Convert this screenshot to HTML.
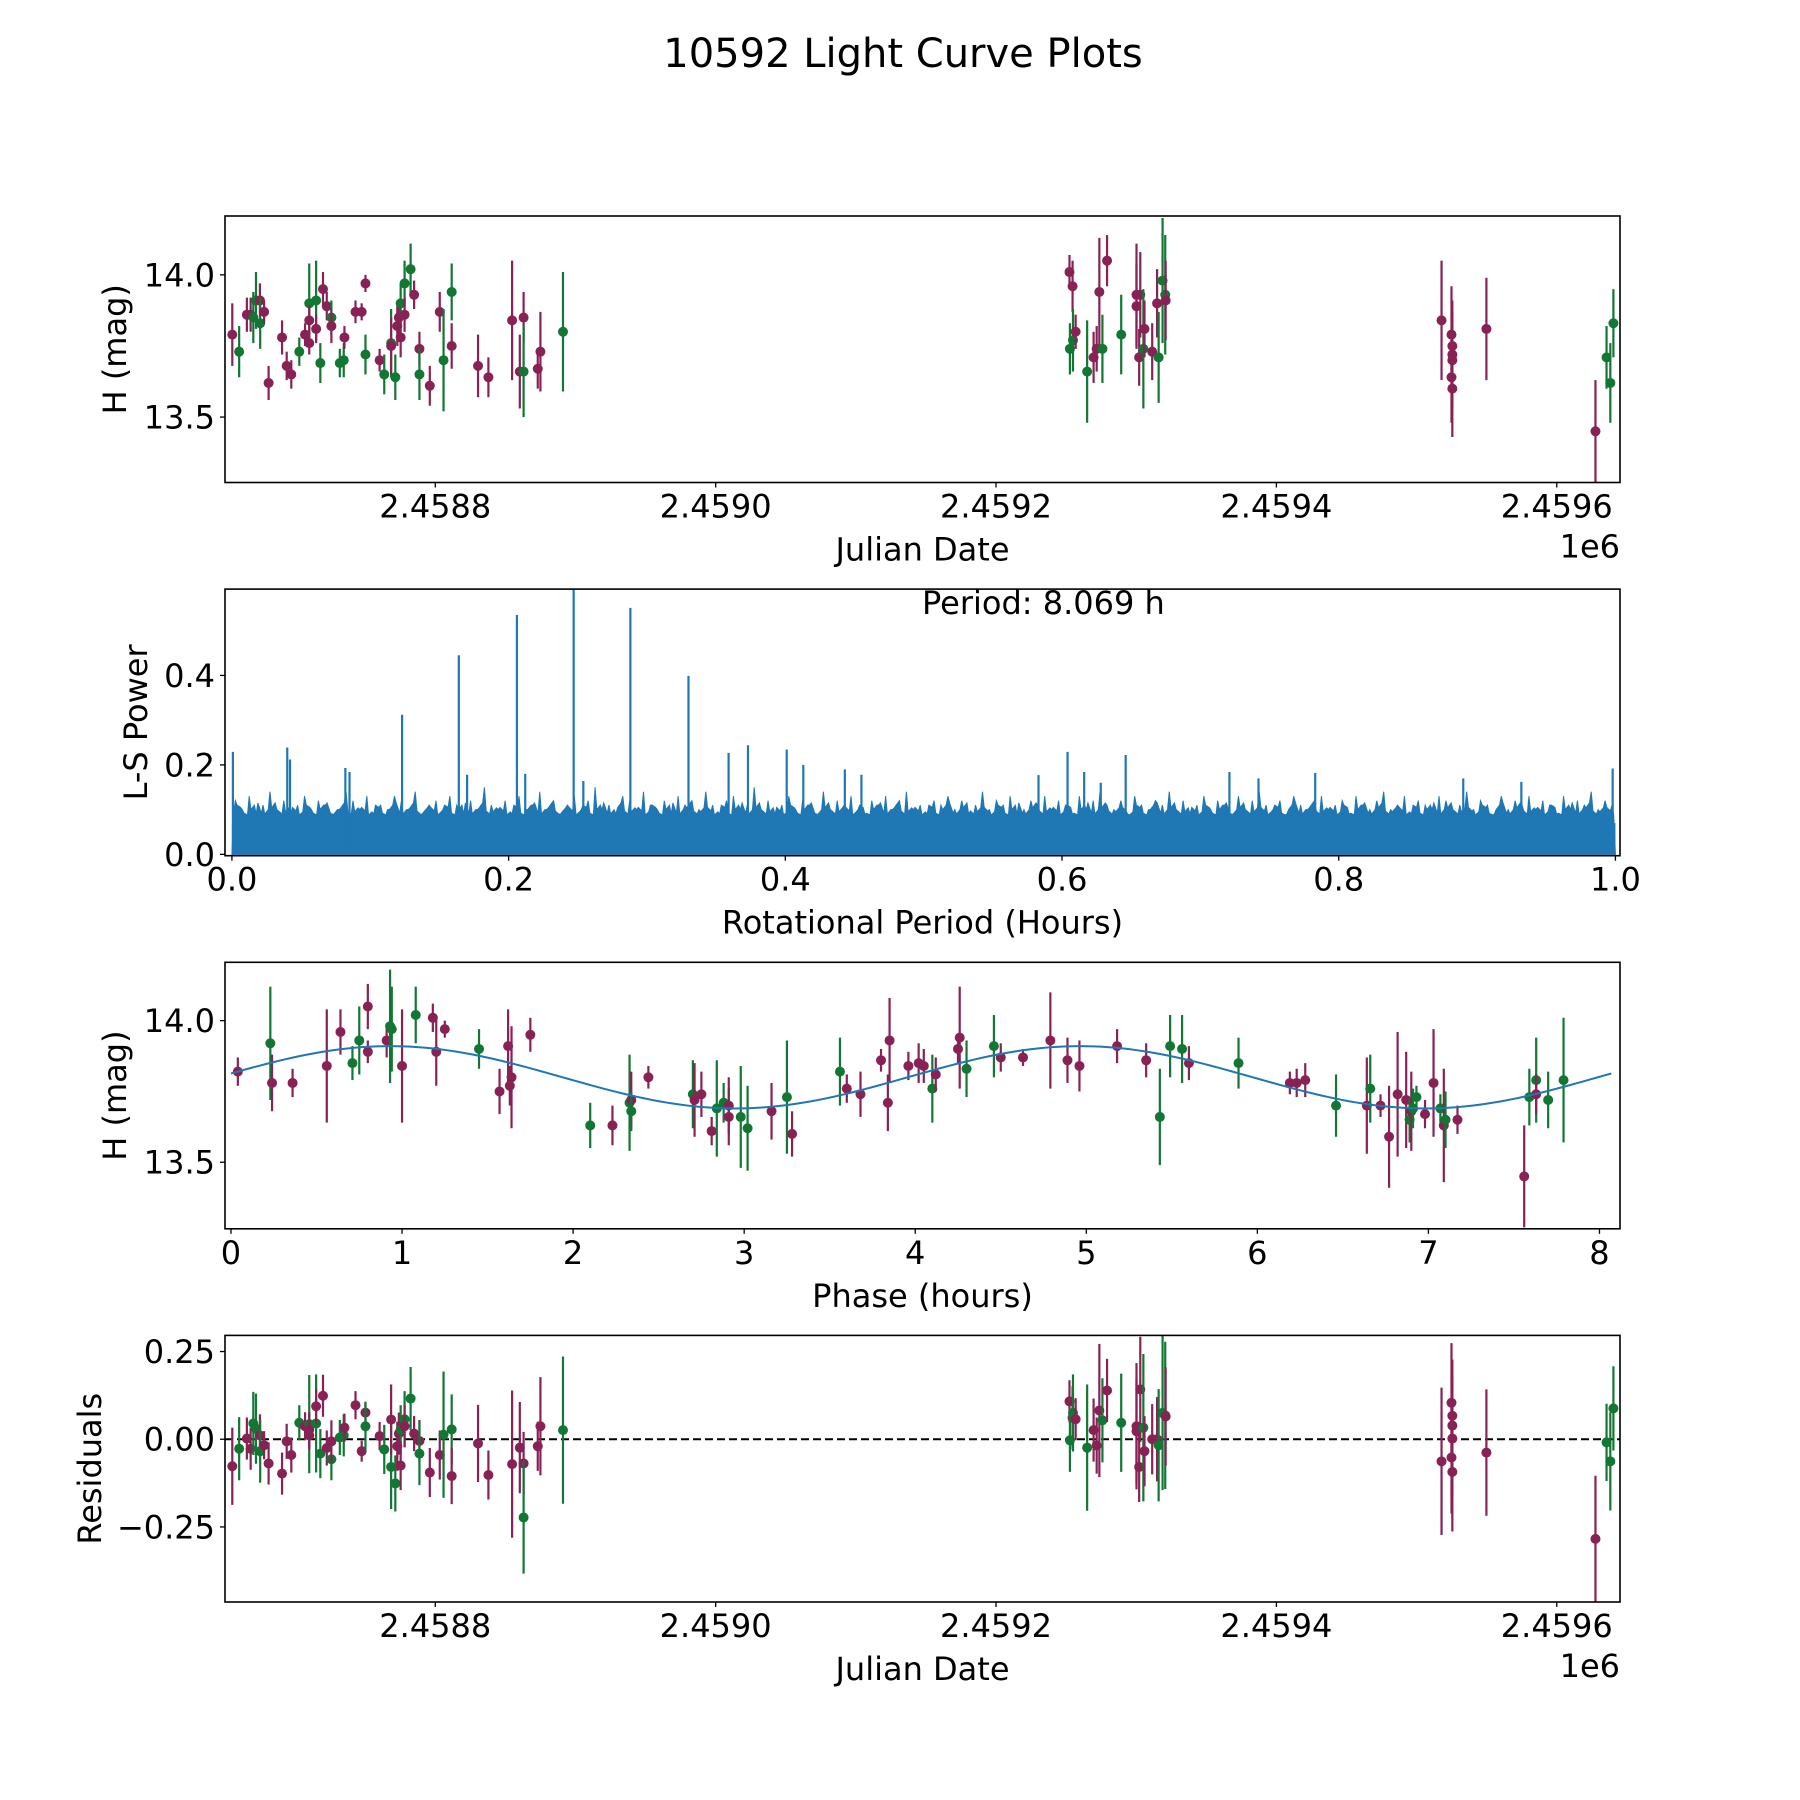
<!DOCTYPE html>
<html><head><meta charset="utf-8"><title>10592 Light Curve Plots</title>
<style>
html,body{margin:0;padding:0;background:#fff;}
svg{display:block;font-family:"DejaVu Sans","Liberation Sans",sans-serif;}
</style></head>
<body>
<svg id="fig" width="1800" height="1800" viewBox="0 0 1800 1800" xmlns="http://www.w3.org/2000/svg">
<rect width="1800" height="1800" fill="#fff"/>
<text x="903" y="67" font-size="40" text-anchor="middle" fill="#000">10592 Light Curve Plots</text>
</svg>
<script>
// ---------- data: raw light curve (JD - 2458000) ----------
const jdVals = [655.2,660.1,665.6,668.3,670.2,672.1,674.9,675.1,677.9,681.1,
690.7,694.0,697.3,703.0,707.1,710.1,710.1,710.1,715.0,715.0,
718.0,719.9,722.6,725.9,725.9,731.9,734.7,735.2,743.1,747.5,
750.2,750.2,760.3,763.6,768.5,768.5,771.5,772.9,774.0,775.3,
775.3,778.1,778.1,782.4,784.9,788.7,788.7,796.1,803.2,805.9,
811.7,811.7,830.5,837.9,854.8,860.3,863.0,863.0,873.1,875.0,
891.1,
1252.4,1254.6,1252.7,1254.9,1256.8,1265.0,1269.6,1271.8,1273.7,1275.9,
1279.2,1289.3,1300.2,1300.2,1302.1,1302.9,1305.1,1305.9,1311.4,1314.9,
1316.0,1318.8,1320.7,1321.0,1517.8,1524.9,1525.5,1525.5,1525.5,1524.9,
1525.5,1549.8,1627.6,1635.5,1638.2,1640.4];
const magVals = [13.79,13.73,13.86,13.86,13.85,13.91,13.91,13.83,13.87,13.62,
13.78,13.68,13.65,13.73,13.79,13.90,13.84,13.76,13.91,13.81,
13.69,13.95,13.89,13.85,13.82,13.69,13.70,13.78,13.87,13.87,
13.97,13.72,13.70,13.65,13.76,13.75,13.64,13.82,13.85,13.90,
13.78,13.97,13.86,14.02,13.93,13.74,13.65,13.61,13.87,13.70,
13.94,13.75,13.68,13.64,13.84,13.66,13.85,13.66,13.67,13.73,
13.80,
14.01,13.96,13.74,13.77,13.80,13.66,13.71,13.74,13.94,13.74,
14.05,13.79,13.93,13.89,13.71,13.93,13.74,13.81,13.73,13.90,
13.71,13.98,13.93,13.91,13.84,13.79,13.75,13.72,13.70,13.64,
13.60,13.81,13.45,13.71,13.62,13.83];
const errVals = [0.11,0.09,0.06,0.06,0.09,0.10,0.06,0.09,0.04,0.06,
0.06,0.05,0.05,0.05,0.04,0.14,0.05,0.04,0.14,0.05,
0.07,0.06,0.05,0.06,0.06,0.05,0.06,0.04,0.04,0.03,
0.03,0.07,0.04,0.07,0.12,0.10,0.08,0.07,0.06,0.07,
0.07,0.08,0.06,0.09,0.05,0.06,0.09,0.07,0.07,0.18,
0.10,0.08,0.11,0.07,0.21,0.13,0.09,0.16,0.07,0.14,
0.21,
0.06,0.09,0.09,0.11,0.06,0.18,0.09,0.08,0.19,0.12,
0.09,0.14,0.18,0.15,0.10,0.15,0.21,0.10,0.10,0.12,
0.16,0.22,0.21,0.14,0.21,0.17,0.16,0.14,0.17,0.16,
0.17,0.18,0.18,0.11,0.14,0.12];
const filterVals = [0,1,0,0,1,1,0,1,0,0,
0,0,0,1,0,1,0,0,1,0,
1,0,0,1,0,1,1,0,0,0,
0,1,0,1,1,0,1,0,0,1,
0,1,0,1,0,0,1,0,0,1,
1,0,0,0,0,0,0,1,0,0,
1,
0,0,1,1,0,1,0,0,0,1,
0,1,0,0,0,0,1,0,0,0,
1,1,1,0,0,0,0,0,0,0,
0,0,0,1,1,1];
const residVals = [-0.077,-0.027,0.002,-0.027,0.045,0.030,0.011,-0.034,-0.017,-0.069,
-0.098,-0.006,-0.045,0.047,0.037,0.043,0.027,0.011,0.045,0.094,
-0.041,0.124,-0.025,-0.057,-0.006,0.005,0.011,0.033,0.097,-0.034,
0.076,0.037,0.009,-0.029,-0.079,0.056,-0.126,-0.020,0.016,0.027,
-0.075,0.057,0.037,0.116,0.016,-0.005,-0.041,-0.095,-0.045,0.013,
0.028,-0.105,-0.012,-0.102,-0.071,-0.024,-0.069,-0.223,-0.020,0.037,
0.026,
0.108,0.061,-0.003,0.075,0.057,-0.024,0.026,-0.018,0.082,0.054,
0.139,0.047,0.037,0.023,-0.079,0.142,0.033,-0.034,0.0,0.0,
-0.017,0.075,0.068,0.065,-0.063,0.104,0.067,0.039,0.002,-0.052,
-0.093,-0.038,-0.284,-0.009,-0.063,0.088];

// ---------- data: phase-folded ----------
const phaseVals = [0.04,0.23,0.24,0.36,0.56,0.64,0.71,0.75,0.80,0.80,
0.91,0.93,0.94,1.00,1.08,1.18,1.20,1.25,1.45,1.57,
1.62,1.63,1.64,1.75,2.10,2.23,2.33,2.34,2.34,2.44,
2.70,2.71,2.75,2.81,2.84,2.88,2.91,2.91,2.98,3.02,
3.16,3.25,3.28,3.56,3.60,3.68,3.80,3.85,3.84,3.96,
4.02,4.05,4.10,4.12,4.25,4.26,4.30,4.46,4.50,4.63,
4.79,4.89,4.96,5.18,5.35,5.43,5.49,5.56,5.60,5.89,
6.19,6.23,6.28,6.46,6.64,6.66,6.72,6.77,6.82,6.87,
6.89,6.90,6.91,6.93,6.98,7.03,7.07,7.09,7.10,7.17,
7.56,7.59,7.63,7.63,7.70,7.79];
const phaseMag = [13.82,13.92,13.78,13.78,13.84,13.96,13.85,13.93,14.05,13.89,
13.93,13.98,13.97,13.84,14.02,14.01,13.89,13.97,13.90,13.75,
13.91,13.77,13.80,13.95,13.63,13.63,13.71,13.72,13.68,13.80,
13.74,13.72,13.74,13.61,13.69,13.71,13.70,13.66,13.66,13.62,
13.68,13.73,13.60,13.82,13.76,13.74,13.86,13.93,13.71,13.84,
13.85,13.84,13.76,13.81,13.90,13.94,13.83,13.91,13.87,13.87,
13.93,13.86,13.84,13.91,13.86,13.66,13.91,13.90,13.85,13.85,
13.78,13.78,13.79,13.70,13.70,13.76,13.70,13.59,13.74,13.72,
13.65,13.68,13.69,13.73,13.67,13.78,13.69,13.63,13.65,13.65,
13.45,13.73,13.79,13.74,13.72,13.79];
const phaseErr = [0.05,0.20,0.10,0.05,0.20,0.08,0.06,0.12,0.08,0.04,
0.06,0.20,0.15,0.20,0.10,0.05,0.12,0.03,0.07,0.08,
0.13,0.07,0.18,0.06,0.08,0.07,0.17,0.10,0.07,0.04,
0.12,0.13,0.08,0.05,0.17,0.07,0.10,0.10,0.18,0.15,
0.10,0.20,0.08,0.12,0.05,0.08,0.04,0.15,0.10,0.05,
0.07,0.06,0.12,0.06,0.05,0.18,0.10,0.11,0.05,0.03,
0.17,0.08,0.09,0.06,0.06,0.17,0.11,0.12,0.06,0.09,
0.04,0.05,0.06,0.11,0.17,0.12,0.04,0.18,0.22,0.17,
0.08,0.14,0.07,0.04,0.05,0.19,0.05,0.20,0.10,0.05,
0.18,0.10,0.15,0.07,0.10,0.22];
const phaseFilter = [0,1,0,0,0,0,1,1,0,0,
0,1,1,0,1,0,0,0,1,0,
0,0,0,0,1,0,1,0,1,0,
1,0,0,0,1,1,0,0,1,1,
0,1,0,1,0,0,0,0,0,0,
0,0,1,0,0,0,1,1,0,0,
0,0,0,0,0,1,1,1,0,1,
0,0,0,1,0,1,0,0,0,0,
1,0,1,1,0,0,1,0,1,0,
0,1,1,0,1,1];
// fitted model parameters: [mean, amplitude, peak phase, period]
const modelParams = [13.80, 0.11, 0.93, 8.069];

// ---------- data: periodogram ----------
const peakPeriods = [0.0007,0.040,0.042,0.082,0.085,0.123,0.164,0.170,0.206,0.212,0.247,0.254,0.288,0.330,0.359,0.373,0.401,0.413,0.443,0.455,
0.583,0.604,0.616,0.628,0.646,0.721,0.742,0.783,0.890,0.932,0.998];
const peakPowers = [0.229,0.239,0.212,0.193,0.184,0.312,0.445,0.178,0.535,0.180,0.593,0.164,0.551,0.399,0.227,0.244,0.234,0.200,0.190,0.178,
0.177,0.229,0.184,0.160,0.222,0.184,0.170,0.182,0.170,0.162,0.192];
const noisePowers = [0.12,0.10,0.13,0.09,0.11,0.14,0.10,0.12,0.09,0.11,0.13,0.10,0.12,0.11,0.09,0.10,0.14,0.12,0.10,0.13,
0.09,0.11,0.10,0.13,0.12,0.10,0.14,0.09,0.11,0.12,0.10,0.13,0.11,0.09,0.12,0.10,0.15,0.11,0.10,0.12,
0.09,0.13,0.10,0.11,0.14,0.10,0.12,0.09,0.11,0.13,0.10,0.12,0.15,0.10,0.11,0.09,0.13,0.12,0.10,0.14,
0.11,0.10,0.12,0.09,0.13,0.11,0.12,0.10,0.14,0.11,0.09,0.12,0.13,0.10,0.11,0.15,0.10,0.12,0.09,0.11,
0.13,0.10,0.12,0.11,0.09,0.14,0.10,0.12,0.11,0.13,0.10,0.09,0.12,0.11,0.13,0.10,0.12,0.14,0.10,0.11,
0.09,0.12,0.11,0.13,0.10,0.12,0.09,0.11,0.14,0.10,0.12,0.11,0.13,0.09,0.10,0.12,0.11,0.13,0.10,0.12,
0.11,0.09,0.13,0.10,0.12,0.14,0.11,0.10,0.12,0.09,0.13,0.11,0.10,0.12,0.11,0.14,0.10,0.12,0.09,0.11,
0.13,0.10,0.12,0.11,0.09,0.13,0.10,0.12,0.14,0.11,0.10,0.12,0.09,0.13,0.11,0.10,0.12,0.13,0.10,0.11,
0.12,0.09,0.13,0.11,0.10,0.12,0.14,0.10,0.11,0.13,0.09,0.12,0.11,0.10,0.13,0.12,0.10,0.11,0.14,0.10,
0.12,0.11,0.09,0.13,0.10,0.12,0.11,0.13,0.10,0.12,0.11,0.09,0.13,0.10,0.12,0.11,0.14,0.10,0.12,0.11];
const noiseMid = [0.095,0.105,0.088,0.110,0.092,0.100,0.115,0.090,0.104,0.097];
const lsFloor = 0.07;

// ---------- tick labels ----------
const jdTicks = [800,1000,1200,1400,1600];
const jdTickLabels = ["2.4588","2.4590","2.4592","2.4594","2.4596"];
const magTicks = [14.0,13.5];
const magTickLabels = ["14.0","13.5"];
const lsXTicks = [0,0.2,0.4,0.6,0.8,1.0];
const lsXTickLabels = ["0.0","0.2","0.4","0.6","0.8","1.0"];
const lsYTicks = [0,0.2,0.4];
const lsYTickLabels = ["0.0","0.2","0.4"];
const phTicks = [0,1,2,3,4,5,6,7,8];
const phTickLabels = ["0","1","2","3","4","5","6","7","8"];
const resTicks = [0.25,0,-0.25];
const resTickLabels = ["0.25","0.00","\u22120.25"];

const COLORS = ["#882255","#117733"];
const BLUE = "#1f77b4";
const NS = "http://www.w3.org/2000/svg";
const svg = document.getElementById("fig");

function el(tag, attrs, parent){
  const e = document.createElementNS(NS, tag);
  for (const k in attrs) e.setAttribute(k, attrs[k]);
  (parent || svg).appendChild(e);
  return e;
}
function scale(d0,d1,p0,p1){ return v => p0 + (v-d0)/(d1-d0)*(p1-p0); }

const L = 225, R = 1620;
const panels = [[216,482.5],[589.1,855.7],[962.3,1228.8],[1335.4,1602]];

function makePanel(i, name, xd, yd){
  const [T,B] = panels[i];
  const g = el("g", {});
  
  
  const clip = el("clipPath", {id:"clip"+i}, g);
  el("rect", {x:L, y:T, width:R-L, height:B-T}, clip);
  const plot = el("g", {"clip-path":"url(#clip"+i+")"}, g);
  
  
  return {g, plot, T, B, x: scale(xd[0],xd[1],L,R), y: scale(yd[0],yd[1],B,T)};
}

function frame(p){
  const f = el("rect", {x:L, y:p.T, width:R-L, height:p.B-p.T, fill:"none", stroke:"#000", "stroke-width":1.6}, p.g);
  
  
}

function xTicks(p, vals, labels, name){
  vals.forEach((v,k)=>{
    const X = p.x(v);
    const t = el("line", {x1:X, x2:X, y1:p.B, y2:p.B+5, stroke:"#000", "stroke-width":1.3}, p.g);
    
    
    const tx = el("text", {x:X, y:p.B+35, "font-size":32, "text-anchor":"middle"}, p.g);
    tx.textContent = labels[k];
    
    
  });
}
function yTicks(p, vals, labels, name){
  vals.forEach((v,k)=>{
    const Y = p.y(v);
    const t = el("line", {x1:L-5, x2:L, y1:Y, y2:Y, stroke:"#000", "stroke-width":1.3}, p.g);
    
    
    const tx = el("text", {x:L-10, y:Y+11.5, "font-size":32, "text-anchor":"end"}, p.g);
    tx.textContent = labels[k];
    
    
  });
}
function xLabel(p, txt){
  const t = el("text", {x:(L+R)/2, y:p.B+78, "font-size":32, "text-anchor":"middle"}, p.g);
  t.textContent = txt;
  
  
}
function yLabel(p, txt, cx){
  const cy = (p.T+p.B)/2;
  const t = el("text", {x:cx, y:cy, "font-size":32, "text-anchor":"middle", "dominant-baseline":"central", transform:"rotate(-90 "+cx+" "+cy+")"}, p.g);
  t.textContent = txt;
  
  
}
function offsetText(p){
  const t = el("text", {x:R, y:p.B+75, "font-size":32, "text-anchor":"end"}, p.g);
  t.textContent = "1e6";
  
  
}
function errPoints(p, xs, ys, es, cs, name){
  xs.forEach((xv,k)=>{
    const X = p.x(xv), c = COLORS[cs[k]];
    const ln = el("line", {x1:X, x2:X, y1:p.y(ys[k]-es[k]), y2:p.y(ys[k]+es[k]), stroke:c, "stroke-width":2.2}, p.plot);
    
    
    const dot = el("circle", {cx:X, cy:p.y(ys[k]), r:5, fill:c}, p.plot);
    
    
  });
}

// ---- Panel 1: raw light curve ----
const jdDomain = [650.0, 1645.1];
const magDomain = [13.27, 14.207];
const p1 = makePanel(0, "raw-light-curve-panel", jdDomain, magDomain);
errPoints(p1, jdVals, magVals, errVals, filterVals, "raw-mag");
frame(p1);
xTicks(p1, jdTicks, jdTickLabels, "jd-x");
yTicks(p1, magTicks, magTickLabels, "mag-y");
xLabel(p1, "Julian Date");
yLabel(p1, "H (mag)", 115);
offsetText(p1);

// ---- Panel 2: periodogram ----
const p2 = makePanel(1, "periodogram-panel", [-0.005, 1.0033], [-0.003, 0.593]);
const nb = noisePowers.length;
const floorR = el("rect", {x:p2.x(0), y:p2.y(lsFloor), width:p2.x(1)-p2.x(0), height:p2.y(0)-p2.y(lsFloor), fill:BLUE}, p2.plot);


// jagged envelope through bin maxima and in-between values
let nd = "M" + p2.x(0).toFixed(2) + " " + p2.y(0).toFixed(2);
noisePowers.forEach((v,k)=>{
  const xa = p2.x((k+0.25)/nb), xb = p2.x((k+0.5)/nb), xc = p2.x((k+0.75)/nb);
  nd += "L" + xa.toFixed(2) + " " + p2.y(noiseMid[k % noiseMid.length]).toFixed(2);
  nd += "L" + xb.toFixed(2) + " " + p2.y(v).toFixed(2);
  nd += "L" + xc.toFixed(2) + " " + p2.y(noiseMid[(k+3) % noiseMid.length]).toFixed(2);
});
nd += "L" + p2.x(1).toFixed(2) + " " + p2.y(0).toFixed(2) + "Z";
const env = el("path", {d:nd, fill:BLUE, stroke:BLUE, "stroke-width":1, "stroke-linejoin":"miter"}, p2.plot);


peakPeriods.forEach((v,k)=>{
  const X = p2.x(v);
  const ln = el("line", {x1:X, x2:X, y1:p2.y(0), y2:p2.y(peakPowers[k]), stroke:BLUE, "stroke-width":2.2}, p2.plot);
  
  
});
frame(p2);
xTicks(p2, lsXTicks, lsXTickLabels, "period-x");
yTicks(p2, lsYTicks, lsYTickLabels, "power-y");
xLabel(p2, "Rotational Period (Hours)");
yLabel(p2, "L-S Power", 136);
const perT = el("text", {x:922, y:614, "font-size":32}, p2.g);
perT.textContent = "Period: " + modelParams[3].toFixed(3) + " h";



// ---- Panel 3: phase folded ----
const p3 = makePanel(2, "phase-folded-panel", [-0.035, 8.12], [13.265, 14.206]);
errPoints(p3, phaseVals, phaseMag, phaseErr, phaseFilter, "phased-mag");
let d = "";
for (let k=0;k<=200;k++){
  const ph = modelParams[3]*k/200;
  const m = modelParams[0] + modelParams[1]*Math.cos(4*Math.PI*(ph-modelParams[2])/modelParams[3]);
  d += (k?"L":"M") + p3.x(ph).toFixed(2) + " " + p3.y(m).toFixed(2);
}
const curve = el("path", {d, fill:"none", stroke:BLUE, "stroke-width":2}, p3.plot);


frame(p3);
xTicks(p3, phTicks, phTickLabels, "phase-x");
yTicks(p3, magTicks, magTickLabels, "phased-mag-y");
xLabel(p3, "Phase (hours)");
yLabel(p3, "H (mag)", 115);

// ---- Panel 4: residuals ----
const p4 = makePanel(3, "residuals-panel", jdDomain, [-0.464, 0.296]);
const zl = el("line", {x1:L, x2:R, y1:p4.y(0), y2:p4.y(0), stroke:"#000", "stroke-width":2, "stroke-dasharray":"8 4"}, p4.plot);


errPoints(p4, jdVals, residVals, errVals, filterVals, "residual");
frame(p4);
xTicks(p4, jdTicks, jdTickLabels, "res-jd-x");
yTicks(p4, resTicks, resTickLabels, "residual-y");
xLabel(p4, "Julian Date");
yLabel(p4, "Residuals", 90);
offsetText(p4);
</script>
</body></html>
